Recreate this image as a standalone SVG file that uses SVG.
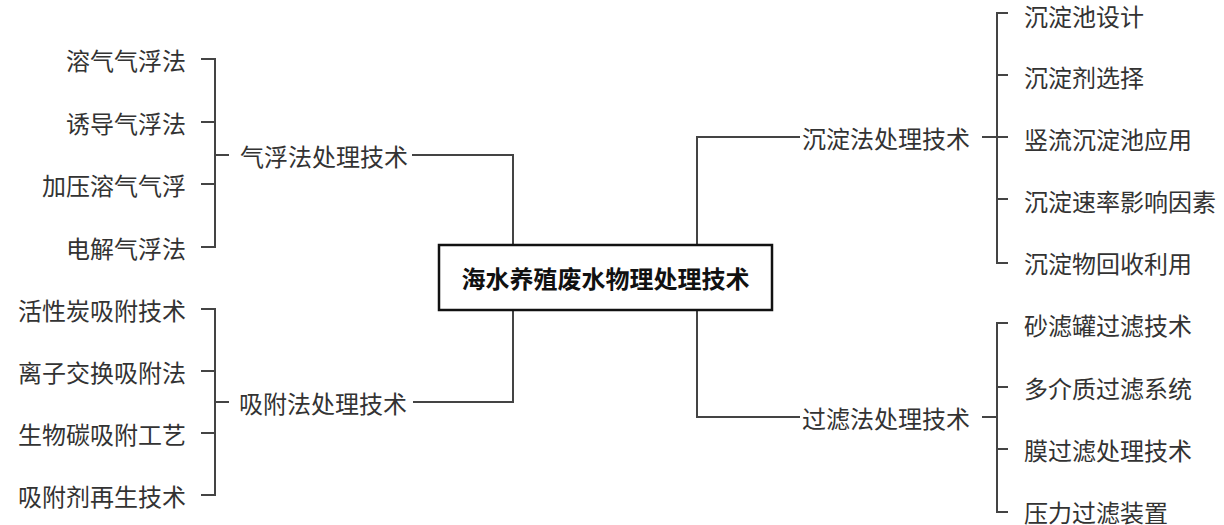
<svg xmlns="http://www.w3.org/2000/svg" width="1224" height="525" viewBox="0 0 1224 525">
<style>
.ln{fill:none;stroke:#444;stroke-width:2;}
.t{font-family:"Noto Sans CJK SC","Noto Sans",sans-serif;font-size:24px;fill:#333;dominant-baseline:central;}
.l{text-anchor:end;}
.c{font-family:"Noto Sans CJK SC","Noto Sans",sans-serif;font-size:24px;font-weight:bold;fill:#111;text-anchor:middle;dominant-baseline:central;}
.box{fill:#fff;stroke:#111;stroke-width:2.5;}
</style>
<rect width="1224" height="525" fill="#fff"/>
<g id="connectors">
<path class="ln" d="M412,155 H513 V245"/>
<path class="ln" d="M413,402 H513 V310"/>
<path class="ln" d="M800,137 H697 V245"/>
<path class="ln" d="M800,417 H697 V310"/>
<path class="ln" d="M201,59 H215 V247 H201 M201,122 H215 M201,184 H215 M215,155 H229"/>
<path class="ln" d="M201,309 H215 V495 H201 M201,371 H215 M201,433 H215 M215,402 H229"/>
<path class="ln" d="M1008,13 H997 V263 H1008 M997,75 H1008 M982,137 H1008 M997,199 H1008"/>
<path class="ln" d="M1008,323 H997 V512 H1008 M997,387 H1008 M982,417 H997 M997,449 H1008"/>
</g>
<g id="root"><rect class="box" x="439" y="245" width="333" height="65"/><text class="c" x="605.5" y="277">海水养殖废水物理处理技术</text></g>
<g id="qifu"><text class="t" x="240" y="155">气浮法处理技术</text></g>
<g id="xifu"><text class="t" x="239" y="402">吸附法处理技术</text></g>
<g id="chendian"><text class="t" x="802" y="137">沉淀法处理技术</text></g>
<g id="guolv"><text class="t" x="802" y="417">过滤法处理技术</text></g>
<g id="q1"><text class="t l" x="186" y="59">溶气气浮法</text></g>
<g id="q2"><text class="t l" x="186" y="122">诱导气浮法</text></g>
<g id="q3"><text class="t l" x="186" y="184">加压溶气气浮</text></g>
<g id="q4"><text class="t l" x="186" y="247">电解气浮法</text></g>
<g id="x1"><text class="t l" x="186" y="309">活性炭吸附技术</text></g>
<g id="x2"><text class="t l" x="186" y="371">离子交换吸附法</text></g>
<g id="x3"><text class="t l" x="186" y="433">生物碳吸附工艺</text></g>
<g id="x4"><text class="t l" x="186" y="495">吸附剂再生技术</text></g>
<g id="c1"><text class="t" x="1024" y="15">沉淀池设计</text></g>
<g id="c2"><text class="t" x="1024" y="76">沉淀剂选择</text></g>
<g id="c3"><text class="t" x="1024" y="138">竖流沉淀池应用</text></g>
<g id="c4"><text class="t" x="1024" y="200">沉淀速率影响因素</text></g>
<g id="c5"><text class="t" x="1024" y="262">沉淀物回收利用</text></g>
<g id="g1"><text class="t" x="1024" y="324">砂滤罐过滤技术</text></g>
<g id="g2"><text class="t" x="1024" y="387">多介质过滤系统</text></g>
<g id="g3"><text class="t" x="1024" y="449">膜过滤处理技术</text></g>
<g id="g4"><text class="t" x="1024" y="511">压力过滤装置</text></g>
</svg>
